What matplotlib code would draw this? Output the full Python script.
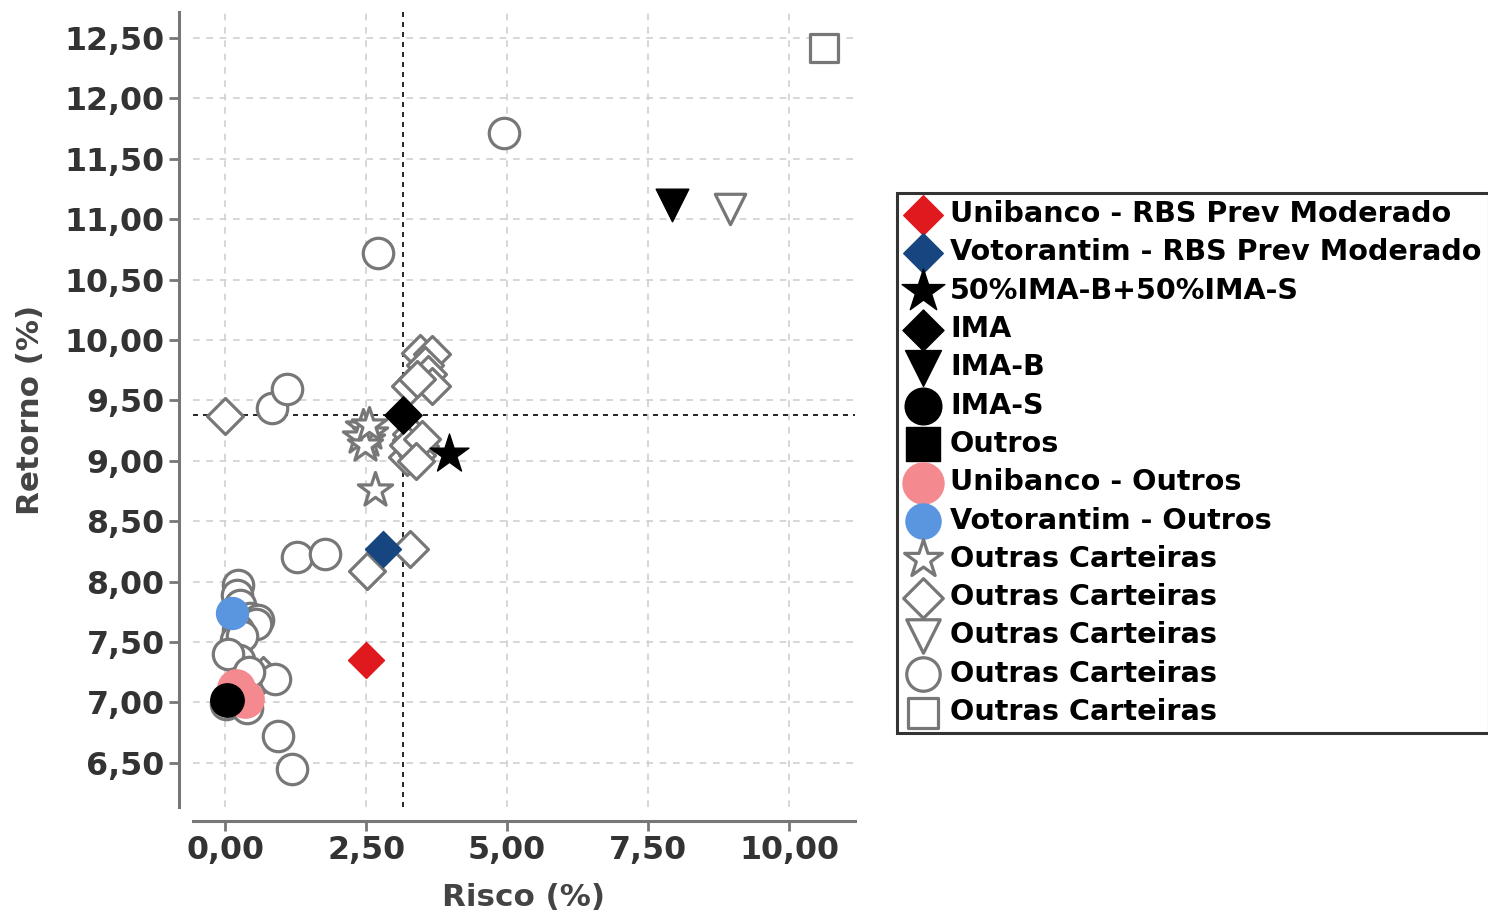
import matplotlib
matplotlib.use("Agg")
import matplotlib.pyplot as plt
from matplotlib.ticker import FuncFormatter

plt.rcParams["font.weight"] = "bold"
plt.rcParams["axes.labelweight"] = "bold"

# Dados (Risco %, Retorno %)
unibanco_rbs_x = [2.50]
unibanco_rbs_y = [7.35]
votorantim_rbs_x = [2.80]
votorantim_rbs_y = [8.27]
bench_x = [3.97]
bench_y = [9.06]
ima_x = [3.16]
ima_y = [9.38]
imab_x = [7.93]
imab_y = [11.12]
imas_x = [0.04]
imas_y = [7.02]
unibanco_outros_x = [0.20, 0.35]
unibanco_outros_y = [7.12, 7.03]
votorantim_outros_x = [0.12]
votorantim_outros_y = [7.74]

estrela_x = [2.45, 2.52, 2.57, 2.40, 2.48, 2.55, 2.66]
estrela_y = [9.28, 9.17, 9.23, 9.20, 9.13, 9.30, 8.76]
losango_x = [0.00, 3.46, 3.67, 3.55, 3.60, 3.28, 3.67, 3.40, 3.30, 3.36, 3.22, 3.45, 3.30,
             3.40, 3.25, 3.50, 3.38, 3.28, 2.52, 0.67]
losango_y = [9.37, 9.89, 9.88, 9.79, 9.72, 9.62, 9.62, 9.68, 9.17, 9.10, 9.03, 9.12, 9.22,
             9.05, 9.13, 9.18, 9.00, 8.27, 8.09, 7.23]
triangulo_x = [8.95]
triangulo_y = [11.08]
circulo_x = [4.95, 2.71, 0.83, 1.10, 1.28, 1.77, 0.23, 0.21, 0.27, 0.44, 0.59, 0.55, 0.23,
             0.20, 0.30, 0.25, 0.89, 0.02, 0.39, 0.94, 1.19, 0.05, 0.42]
circulo_y = [11.71, 10.72, 9.44, 9.59, 8.20, 8.23, 7.97, 7.89, 7.81, 7.70, 7.68, 7.65, 7.60,
             7.52, 7.55, 7.35, 7.19, 6.99, 6.95, 6.72, 6.45, 7.40, 7.25]
quadrado_x = [10.62]
quadrado_y = [12.42]

CINZA = "#777777"
S = 480

fig = plt.figure(figsize=(14.88, 9.13), dpi=100)
ax = fig.add_axes([0.1297, 0.1161, 0.4449, 0.8708])

ax.grid(True, linestyle=(0, (4, 4)), color="#d0d0d0", linewidth=1.2, zorder=0)
ax.axvline(ima_x[0], color="black", linestyle=(0, (3, 3)), linewidth=1.2, zorder=1)
ax.axhline(ima_y[0], color="black", linestyle=(0, (3, 3)), linewidth=1.2, zorder=1)

kw_out = dict(facecolor="white", edgecolor=CINZA, linewidths=2.3, zorder=2)
ax.scatter(estrela_x, estrela_y, marker="*", s=S * 1.4, label="Outras Carteiras", **kw_out)
ax.scatter(losango_x, losango_y, marker="D", s=S * 0.7, label="Outras Carteiras", **kw_out)
ax.scatter(triangulo_x, triangulo_y, marker="v", s=S, label="Outras Carteiras", **kw_out)
ax.scatter(circulo_x, circulo_y, marker="o", s=S, label="Outras Carteiras", **kw_out)
ax.scatter(quadrado_x, quadrado_y, marker="s", s=S * 0.85, label="Outras Carteiras", **kw_out)

ax.scatter(unibanco_rbs_x, unibanco_rbs_y, marker="D", s=S * 0.7, color="#e0191e",
           label="Unibanco - RBS Prev Moderado", zorder=4)
ax.scatter(votorantim_rbs_x, votorantim_rbs_y, marker="D", s=S * 0.7, color="#17457f",
           label="Votorantim - RBS Prev Moderado", zorder=4)
ax.scatter(bench_x, bench_y, marker="*", s=S * 1.8, color="black",
           label="50%IMA-B+50%IMA-S", zorder=4)
ax.scatter(ima_x, ima_y, marker="D", s=S * 0.75, color="black", label="IMA", zorder=4)
ax.scatter(imab_x, imab_y, marker="v", s=S * 1.15, color="black", label="IMA-B", zorder=4)
ax.scatter(unibanco_outros_x, unibanco_outros_y, marker="o", s=S * 1.5, color="#f48a8f",
           label="Unibanco - Outros", zorder=4)
ax.scatter(imas_x, imas_y, marker="o", s=S * 1.2, color="black", label="IMA-S", zorder=5)
ax.scatter([], [], marker="s", s=S, color="black", label="Outros")
ax.scatter(votorantim_outros_x, votorantim_outros_y, marker="o", s=S * 1.1, color="#5a95e0",
           label="Votorantim - Outros", zorder=4)

ax.set_xlim(-0.57, 11.17)
ax.set_ylim(6.134, 12.715)
ax.set_xticks([0, 2.5, 5, 7.5, 10])
ax.set_yticks([6.5, 7, 7.5, 8, 8.5, 9, 9.5, 10, 10.5, 11, 11.5, 12, 12.5])
fmt = FuncFormatter(lambda v, p: f"{v:.2f}".replace(".", ","))
ax.xaxis.set_major_formatter(fmt)
ax.yaxis.set_major_formatter(fmt)

ax.tick_params(labelsize=22.8, labelcolor="#333333", color="#777777", width=2, length=7)
ax.set_xlabel("Risco (%)", fontsize=22.3, color="#444444", labelpad=12)
ax.set_ylabel("Retorno (%)", fontsize=22.3, color="#444444", labelpad=14)

for side in ["top", "right"]:
    ax.spines[side].set_visible(False)
for side in ["left", "bottom"]:
    ax.spines[side].set_color("#777777")
    ax.spines[side].set_linewidth(2.2)
    ax.spines[side].set_position(("outward", 10))

ordem = ["Unibanco - RBS Prev Moderado", "Votorantim - RBS Prev Moderado", "50%IMA-B+50%IMA-S",
         "IMA", "IMA-B", "IMA-S", "Outros", "Unibanco - Outros", "Votorantim - Outros"]
handles, labels = ax.get_legend_handles_labels()
mapa = {l: h for h, l in zip(handles, labels) if l != "Outras Carteiras"}
outras = [h for h, l in zip(handles, labels) if l == "Outras Carteiras"]
hs = [mapa[l] for l in ordem] + outras
ls = ordem + ["Outras Carteiras"] * len(outras)

leg = fig.legend(hs, ls, loc="upper left", bbox_to_anchor=(897 / 1488, 1 - 193 / 913),
                 prop={"weight": "bold", "size": 20.6}, frameon=True, fancybox=False,
                 handletextpad=0.3, labelspacing=0.36, borderpad=0.25, handlelength=1.3,
                 scatterpoints=1, borderaxespad=0, markerscale=1.1)
leg.get_frame().set_edgecolor("black")
leg.get_frame().set_linewidth(2.2)

fig.savefig("out.png", dpi=100)
